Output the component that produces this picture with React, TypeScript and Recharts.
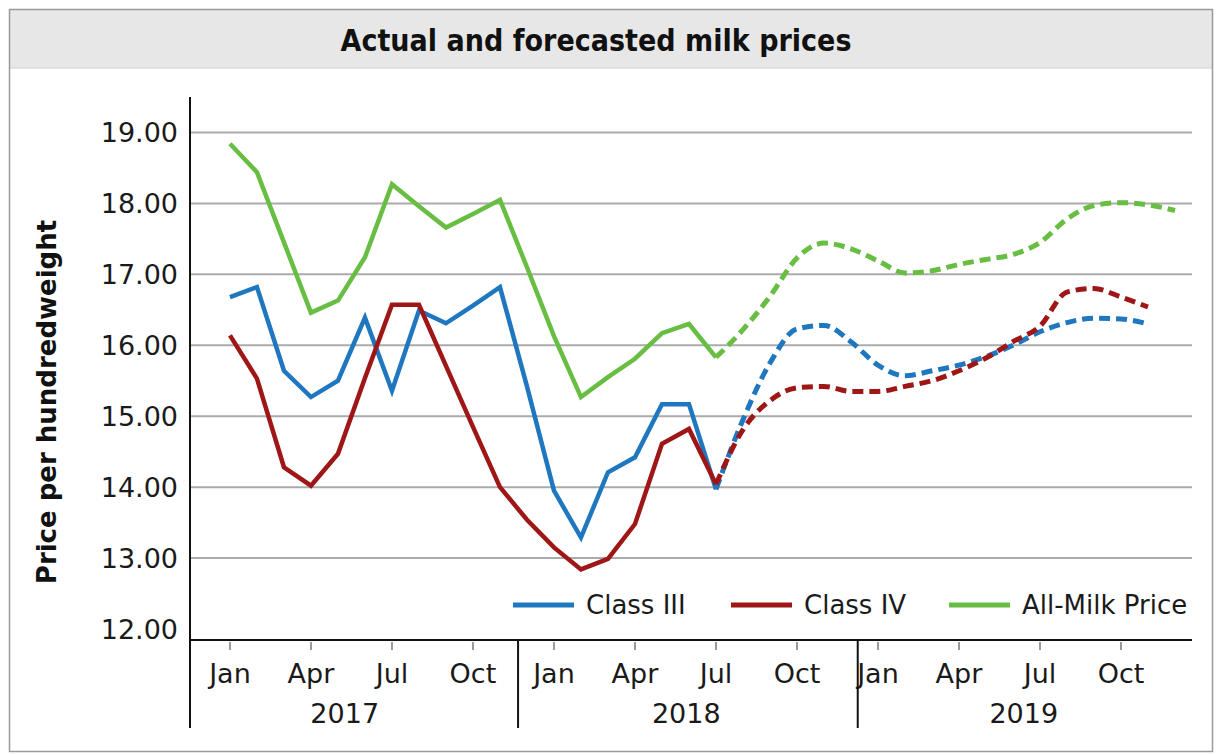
import React from "react";
import { CartesianGrid, Line, LineChart, XAxis, YAxis } from "recharts";

// Monthly values, Jan 2017 = month 0
const classIII = [
  16.68, 16.82, 15.64, 15.27, 15.5, 16.39, 15.36, 16.49, 16.31, 16.56, 16.82, 15.42,
  13.95, 13.29, 14.21, 14.42, 15.17, 15.17, 13.97,
];
const classIV = [
  16.14, 15.53, 14.28, 14.02, 14.47, 15.54, 16.57, 16.57, 15.71, 14.85, 14.0, 13.54,
  13.15, 12.84, 12.99, 13.48, 14.61, 14.82, 14.04,
];
const allMilk = [
  18.84, 18.44, 17.45, 16.46, 16.63, 17.24, 18.27, 17.96, 17.66, 17.85, 18.05, 17.1,
  16.13, 15.27, 15.55, 15.81, 16.17, 16.3, 15.83,
];

// Forecasts, starting at Jul 2018 (month 18)
const FORECAST_START = 18;
const classIIIForecast = [
  13.97, 14.95, 15.75, 16.23, 16.28, 16.05, 15.72, 15.57, 15.64, 15.72, 15.84, 16.0,
  16.19, 16.32, 16.38, 16.37, 16.3,
];
const classIVForecast = [
  14.04, 14.81, 15.22, 15.4, 15.42, 15.35, 15.35, 15.42, 15.5, 15.64, 15.82, 16.05,
  16.27, 16.75, 16.8, 16.68, 16.54,
];
const allMilkForecast = [
  15.83, 16.22, 16.69, 17.23, 17.44, 17.36, 17.19, 17.02, 17.05, 17.14, 17.21, 17.28,
  17.45, 17.78, 17.97, 18.01, 17.98, 17.9,
];

const monthTicks = [0, 3, 6, 9, 12, 15, 18, 21, 24, 27, 30, 33];
const monthLabels = ["Jan", "Apr", "Jul", "Oct", "Jan", "Apr", "Jul", "Oct", "Jan", "Apr", "Jul", "Oct"];
const years = ["2017", "2018", "2019"];
const yearCenters = [4.25, 16.9, 29.4];
const yearBreaks = [10.67, 23.25];
const yTicks = [12, 13, 14, 15, 16, 17, 18, 19];

const BLUE = "#1f77c0";
const RED = "#9e1616";
const GREEN = "#68bd43";
const FONT = "'DejaVu Sans', sans-serif";

const W = 1219;
const H = 755;
const PLOT_LEFT = 190;
const PLOT_RIGHT = 1192;
const PLOT_TOP = 97;
const AXIS_Y = 640;
const X_MIN = -1.48;
const X_MAX = 35.63;

const xOf = (m: number) =>
  PLOT_LEFT + ((m - X_MIN) / (X_MAX - X_MIN)) * (PLOT_RIGHT - PLOT_LEFT);

const rows = Array.from({ length: 36 }, (_, m) => {
  const f = m - FORECAST_START;
  return {
    m,
    c3: classIII[m] ?? null,
    c4: classIV[m] ?? null,
    all: allMilk[m] ?? null,
    c3f: f >= 0 ? classIIIForecast[f] ?? null : null,
    c4f: f >= 0 ? classIVForecast[f] ?? null : null,
    allf: f >= 0 ? allMilkForecast[f] ?? null : null,
  };
});

const legendItems = [
  { name: "Class III", color: BLUE, x: 513 },
  { name: "Class IV", color: RED, x: 731 },
  { name: "All-Milk Price", color: GREEN, x: 949 },
];

function MonthTick(props: any) {
  const { x, y, index } = props;
  return (
    <g>
      <line x1={x} x2={x} y1={y + 2} y2={y + 10} stroke="#9a9a9a" strokeWidth={2} />
      <text x={x} y={y + 43} textAnchor="middle" fontSize={27} fontFamily={FONT} fill="#1a1a1a">
        {monthLabels[index]}
      </text>
    </g>
  );
}

export default function App() {
  return (
    <div style={{ position: "absolute", left: 0, top: 0, width: W, height: H, background: "#fff" }}>
      <LineChart
        width={W}
        height={H}
        data={rows}
        margin={{ top: PLOT_TOP, right: W - PLOT_RIGHT, bottom: H - AXIS_Y - 30, left: PLOT_LEFT - 100 }}
      >
        <CartesianGrid
          vertical={false}
          horizontalValues={yTicks.filter((v) => v > 12)}
          stroke="#ababab"
          strokeWidth={2}
        />
        <XAxis
          type="number"
          dataKey="m"
          domain={[X_MIN, X_MAX]}
          allowDataOverflow
          ticks={monthTicks}
          interval={0}
          height={30}
          tickSize={0}
          tickMargin={0}
          tickLine={false}
          axisLine={{ stroke: "#111", strokeWidth: 2 }}
          tick={(p: any) => <MonthTick {...p} />}
        />
        <YAxis
          domain={[11.845, 19.5]}
          allowDataOverflow
          ticks={yTicks}
          interval={0}
          width={100}
          tickSize={0}
          tickMargin={12}
          tickLine={false}
          axisLine={{ stroke: "#111", strokeWidth: 2 }}
          tickFormatter={(v: number) => v.toFixed(2)}
          tick={{ fontSize: 27, fontFamily: FONT, fill: "#1a1a1a" }}
        />
        <Line dataKey="c3" type="linear" stroke={BLUE} strokeWidth={4.5} dot={false} isAnimationActive={false} />
        <Line dataKey="c4" type="linear" stroke={RED} strokeWidth={4.5} dot={false} isAnimationActive={false} />
        <Line dataKey="all" type="linear" stroke={GREEN} strokeWidth={4.5} dot={false} isAnimationActive={false} />
        <Line dataKey="c3f" type="monotone" stroke={BLUE} strokeWidth={5} strokeDasharray="11 6" dot={false} isAnimationActive={false} />
        <Line dataKey="c4f" type="monotone" stroke={RED} strokeWidth={5} strokeDasharray="11 6" dot={false} isAnimationActive={false} />
        <Line dataKey="allf" type="monotone" stroke={GREEN} strokeWidth={5} strokeDasharray="11 6" dot={false} isAnimationActive={false} />
      </LineChart>

      <svg
        width={W}
        height={H}
        style={{ position: "absolute", left: 0, top: 0, pointerEvents: "none" }}
      >
        {/* frame and title band */}
        <rect x={10} y={10} width={1202} height={58} fill="#e7e7e7" />
        <line x1={10} x2={1212} y1={68} y2={68} stroke="#d0d0d0" strokeWidth={1} />
        <rect x={9.5} y={9.5} width={1203} height={742} fill="none" stroke="#9a9a9a" strokeWidth={1.5} />
        <text
          x={596}
          y={51}
          textAnchor="middle"
          fontSize={30}
          fontWeight="bold"
          fontFamily={FONT}
          fill="#111"
          textLength={511}
          lengthAdjust="spacingAndGlyphs"
        >
          Actual and forecasted milk prices
        </text>

        {/* y axis title */}
        <text
          transform="translate(56, 402) rotate(-90)"
          textAnchor="middle"
          fontSize={26}
          fontWeight="bold"
          fontFamily={FONT}
          fill="#111"
        >
          Price per hundredweight
        </text>

        {/* year group separators and labels */}
        <line x1={PLOT_LEFT} x2={PLOT_LEFT} y1={AXIS_Y} y2={728} stroke="#111" strokeWidth={2} />
        {yearBreaks.map((m) => (
          <line key={m} x1={xOf(m)} x2={xOf(m)} y1={AXIS_Y} y2={728} stroke="#111" strokeWidth={2} />
        ))}
        {years.map((yr, i) => (
          <text
            key={yr}
            x={xOf(yearCenters[i])}
            y={723}
            textAnchor="middle"
            fontSize={27}
            fontFamily={FONT}
            fill="#1a1a1a"
          >
            {yr}
          </text>
        ))}

        {/* legend */}
        {legendItems.map((it) => (
          <g key={it.name}>
            <line x1={it.x} x2={it.x + 61} y1={605} y2={605} stroke={it.color} strokeWidth={5} />
            <text x={it.x + 73} y={614} fontSize={26} fontFamily={FONT} fill="#1a1a1a">
              {it.name}
            </text>
          </g>
        ))}
      </svg>
    </div>
  );
}
